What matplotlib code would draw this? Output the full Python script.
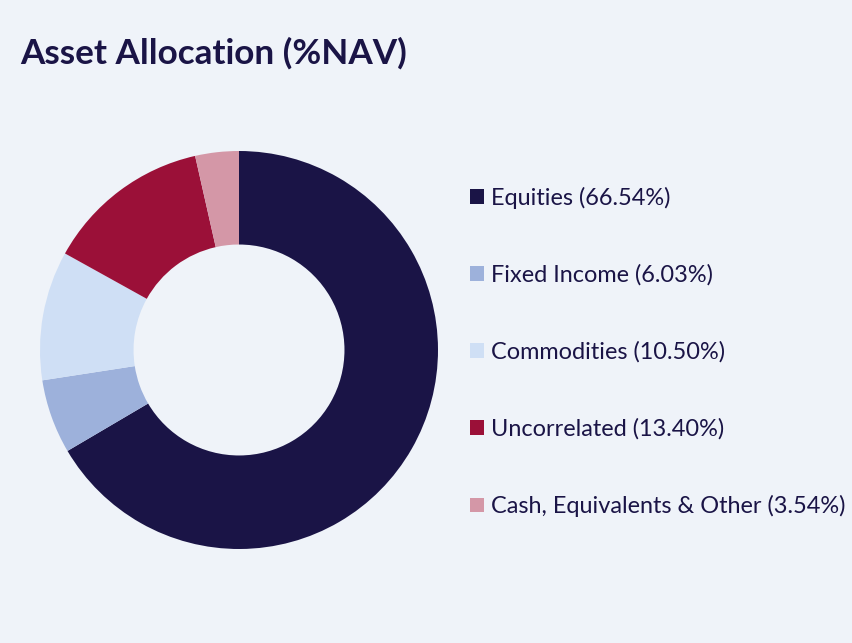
import matplotlib.pyplot as plt

categories = ["Equities", "Fixed Income", "Commodities", "Uncorrelated",
              "Cash, Equivalents & Other"]
values = [66.54, 6.03, 10.50, 13.40, 3.54]
colors = ["#1a1446", "#9db1db", "#cfdff5", "#9b1038", "#d497a7"]

bg = "#eff3f9"
ink = "#1a1446"

plt.rcParams["font.family"] = ["Lato", "DejaVu Sans"]

W, H = 853, 643
fig = plt.figure(figsize=(W / 100, H / 100), dpi=100, facecolor=bg)

cx, cy, r = 239, 350, 199
ax = fig.add_axes([(cx - r) / W, (H - cy - r) / H, 2 * r / W, 2 * r / H])
ax.set_facecolor(bg)
wedges, _ = ax.pie(values, colors=colors, startangle=90, counterclock=False,
                   radius=1, wedgeprops=dict(width=0.47, linewidth=0))
ax.set_xlim(-1, 1)
ax.set_ylim(-1, 1)
ax.axis("off")

fig.text(20 / W, 1 - 53 / H, "Asset Allocation (%NAV)", fontsize=25.3,
         fontweight="bold", color=ink, va="center", ha="left")

labels = [f"{c} ({v:.2f}%)" for c, v in zip(categories, values)]
leg = fig.legend(wedges, labels, loc="upper left",
                 bbox_to_anchor=(470 / W, 1 - 187 / H),
                 frameon=False, fontsize=16.9, labelcolor=ink,
                 handlelength=0.6, handleheight=0.6, handletextpad=0.3,
                 labelspacing=2.36, borderpad=0, borderaxespad=0)

fig.savefig("out.png", dpi=100, facecolor=bg)
